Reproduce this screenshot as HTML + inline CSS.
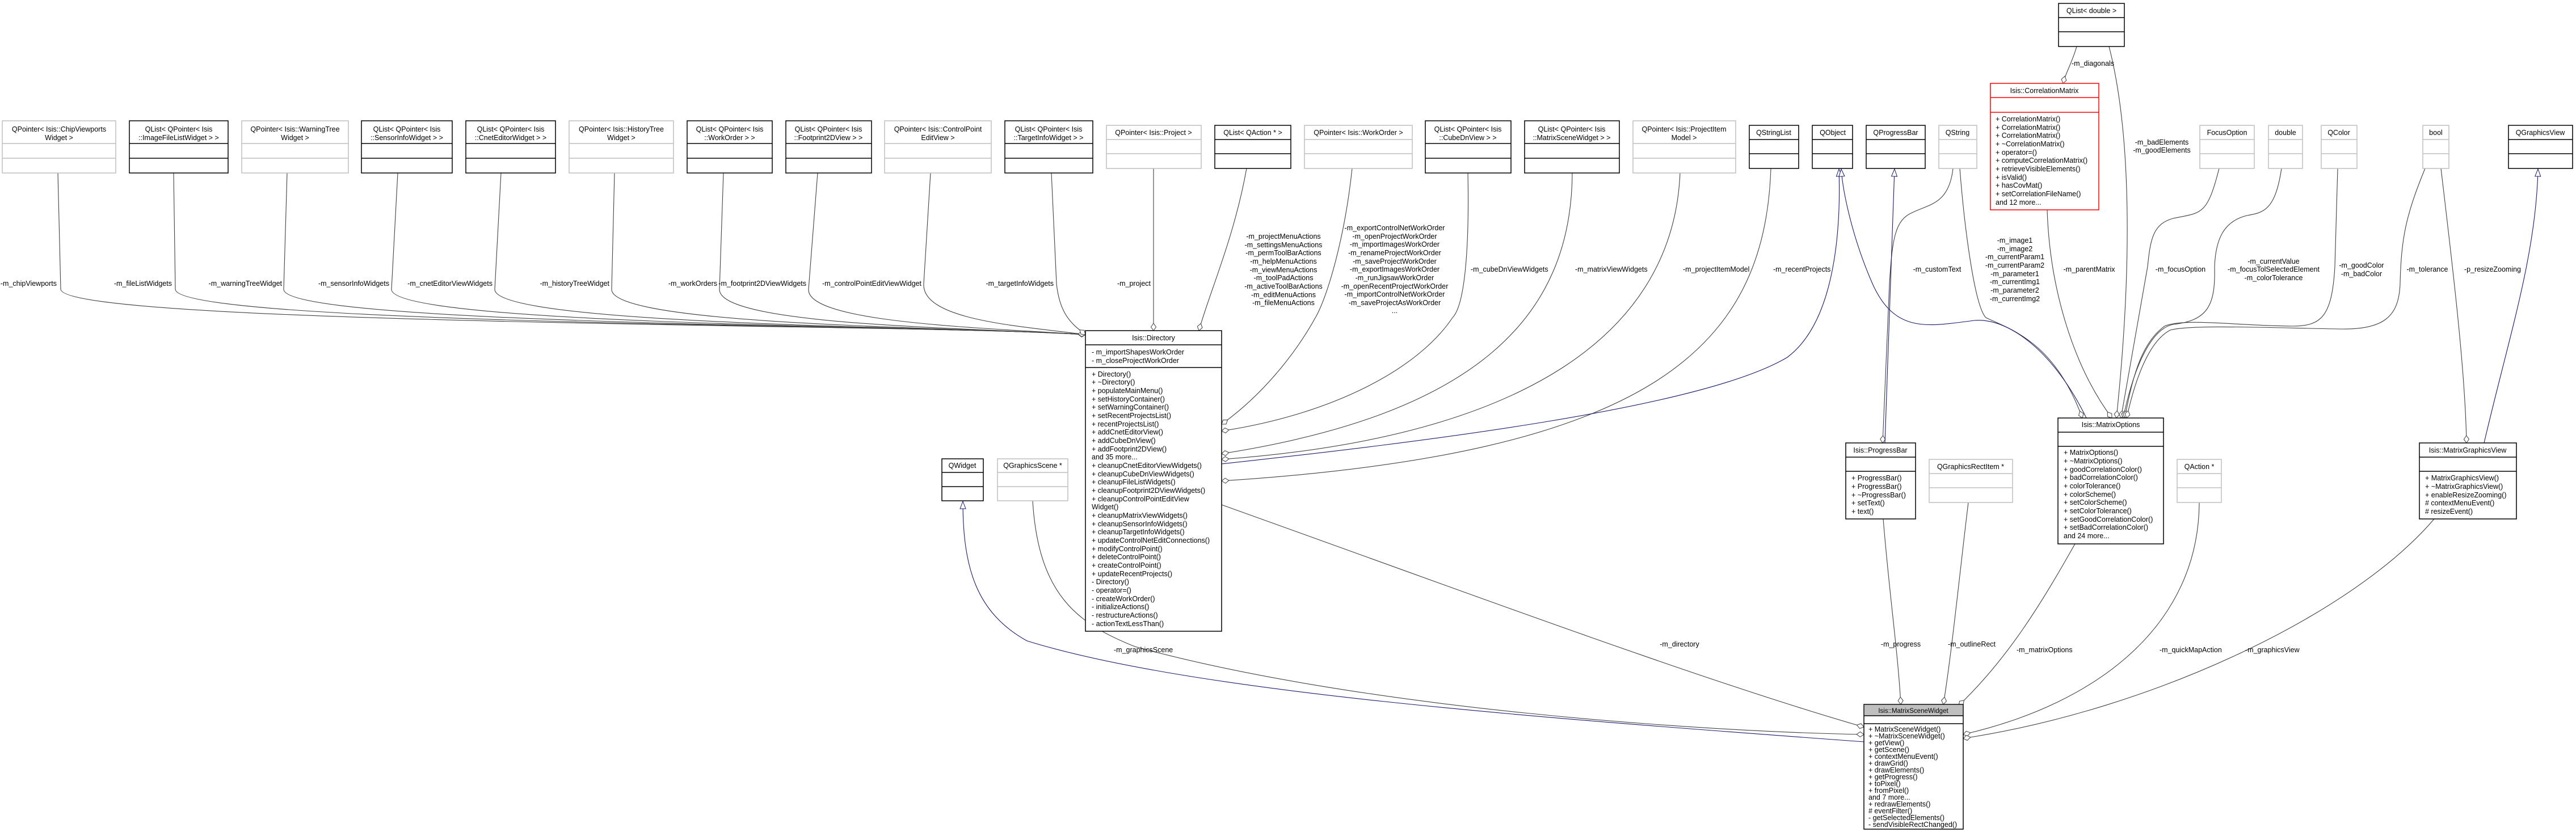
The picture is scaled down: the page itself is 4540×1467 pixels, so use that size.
<!DOCTYPE html>
<html><head><meta charset="utf-8"><style>
html,body{margin:0;padding:0;background:#fff;}
svg{display:block;}
text{font-family:"Liberation Sans",sans-serif;font-size:12.5px;fill:#000;}
.c{text-anchor:middle;}
.e{fill:none;stroke:#404040;stroke-width:1.1;}
.n{fill:none;stroke:#191970;stroke-width:1.1;}
.bk{fill:#fff;stroke:#000;stroke-width:1.5;}
.gr{fill:#fff;stroke:#bfbfbf;stroke-width:1.5;}
.rd{fill:#fff;stroke:#ff0000;stroke-width:1.5;}
.lb{stroke:#000;stroke-width:1.5;}
.lg{stroke:#bfbfbf;stroke-width:1.5;}
.lr{stroke:#ff0000;stroke-width:1.5;}
</style></head><body>
<svg width="4540" height="1467" viewBox="0 0 4540 1467" xmlns="http://www.w3.org/2000/svg">
<defs>
<marker id="d" markerWidth="16" markerHeight="12" refX="14" refY="6" orient="auto" markerUnits="userSpaceOnUse"><path d="M1,6 L7.5,1.5 L14,6 L7.5,10.5 Z" fill="#fff" stroke="#404040" stroke-width="1"/></marker>
<marker id="t" markerWidth="16" markerHeight="14" refX="14" refY="7" orient="auto" markerUnits="userSpaceOnUse"><path d="M1,2 L14,7 L1,12 Z" fill="#fff" stroke="#191970" stroke-width="1"/></marker>
</defs>

<path class="e" marker-end="url(#d)" d="M102,305 L107,510 C112,575 1700,572 1913,590"/>
<path class="e" marker-end="url(#d)" d="M306,305 L309,510 C312,575 1700,573 1913,590"/>
<path class="e" marker-end="url(#d)" d="M506,305 L500,510 C498,575 1700,574 1913,590"/>
<path class="e" marker-end="url(#d)" d="M701,305 L690,510 C688,575 1700,575 1913,590"/>
<path class="e" marker-end="url(#d)" d="M883,305 L872,510 C870,575 1700,576 1913,590"/>
<path class="e" marker-end="url(#d)" d="M1083,305 L1078,510 C1076,575 1700,577 1913,590"/>
<path class="e" marker-end="url(#d)" d="M1275,305 L1268,510 C1266,575 1720,578 1913,590"/>
<path class="e" marker-end="url(#d)" d="M1441,305 L1425,510 C1422,570 1740,578 1913,590"/>
<path class="e" marker-end="url(#d)" d="M1640,305 L1628,500 C1624,565 1800,575 1913,590"/>
<path class="e" marker-end="url(#d)" d="M1853,305 L1862,500 C1868,560 1895,575 1913,590"/>
<path class="e" marker-end="url(#d)" d="M2033,297 L2033,583"/>
<path class="e" marker-end="url(#d)" d="M2197,297 C2175,420 2130,520 2113,583"/>
<path class="e" marker-end="url(#d)" d="M2383,297 C2370,420 2340,520 2320,557 C2280,630 2220,700 2153,748"/>
<path class="e" marker-end="url(#d)" d="M2587,304 C2590,450 2580,540 2560,560 C2500,650 2350,730 2153,760"/>
<path class="e" marker-end="url(#d)" d="M2771,304 C2770,560 2600,730 2153,800"/>
<path class="e" marker-end="url(#d)" d="M2961,304 C2950,580 2700,770 2153,810"/>
<path class="e" marker-end="url(#d)" d="M3121,297 C3110,620 2900,800 2153,848"/>
<path class="n" marker-end="url(#t)" d="M2153,818 C2500,780 3000,720 3150,630 C3230,570 3245,420 3241,298"/>
<path class="e" marker-end="url(#d)" d="M3660,82 C3652,110 3640,130 3636,147"/>
<path class="e" marker-end="url(#d)" d="M3717,82 C3760,250 3755,500 3730,737"/>
<path class="e" marker-end="url(#d)" d="M3454,297 C3462,400 3480,540 3500,560 C3540,580 3620,600 3670,737"/>
<path class="n" marker-end="url(#t)" d="M3677,737 C3620,620 3540,560 3480,565 C3400,575 3340,590 3300,500 C3265,420 3248,340 3245,298"/>
<path class="e" marker-end="url(#d)" d="M3608,370 C3612,500 3650,640 3722,737"/>
<path class="e" marker-end="url(#d)" d="M3911,297 C3890,380 3880,375 3830,385 C3795,395 3790,420 3785,470 L3738,737"/>
<path class="e" marker-end="url(#d)" d="M4021,297 C4010,370 3990,375 3960,380 C3920,390 3905,420 3903,470 C3905,540 3890,565 3830,572 C3790,580 3760,650 3742,737"/>
<path class="e" marker-end="url(#d)" d="M4120,297 L4115,470 C4110,560 4090,575 4040,575 C3950,575 3850,560 3815,575 C3780,600 3760,650 3745,737"/>
<path class="e" marker-end="url(#d)" d="M4274,297 C4240,380 4232,420 4230,500 C4228,560 4200,582 4120,580 C4000,578 3860,572 3825,582 C3790,600 3765,660 3748,737"/>
<path class="e" marker-end="url(#d)" d="M4302,297 C4320,450 4345,650 4347,781"/>
<path class="n" marker-end="url(#t)" d="M4378,781 C4420,600 4470,450 4473,298"/>
<path class="e" marker-end="url(#d)" d="M3442,297 C3435,360 3400,360 3370,375 C3340,388 3335,420 3330,500 L3318,781"/>
<path class="n" marker-end="url(#t)" d="M3322,781 L3339,298"/>
<path class="e" marker-end="url(#d)" d="M3319,915 C3330,1050 3345,1150 3350,1242"/>
<path class="e" marker-end="url(#d)" d="M3469,886 C3455,1000 3440,1150 3425,1242"/>
<path class="e" marker-end="url(#d)" d="M3657,959 C3600,1060 3540,1160 3452,1244"/>
<path class="e" marker-end="url(#d)" d="M3876,886 C3875,1100 3700,1240 3460,1295"/>
<path class="e" marker-end="url(#d)" d="M4290,915 C4150,1080 3800,1250 3460,1302"/>
<path class="e" marker-end="url(#d)" d="M2153,890 C2600,1050 3000,1200 3285,1282"/>
<path class="e" marker-end="url(#d)" d="M1820,883 C1830,1050 1900,1100 2000,1140 C2400,1250 3000,1290 3285,1295"/>
<path class="n" marker-end="url(#t)" d="M3285,1308 C2700,1265 2100,1220 1810,1130 C1720,1080 1697,1000 1697,884"/>

<g style="text-anchor:end">
<text x="100" y="504">-m_chipViewports</text>
<text x="303" y="504">-m_fileListWidgets</text>
<text x="497" y="504">-m_warningTreeWidget</text>
<text x="686" y="504">-m_sensorInfoWidgets</text>
<text x="868" y="504">-m_cnetEditorViewWidgets</text>
<text x="1074" y="504">-m_historyTreeWidget</text>
<text x="1264" y="504">-m_workOrders</text>
<text x="1421" y="504">-m_footprint2DViewWidgets</text>
<text x="1624" y="504">-m_controlPointEditViewWidget</text>
<text x="1857" y="504">-m_targetInfoWidgets</text>
<text x="2028" y="504">-m_project</text>
</g>
<g class="c">
<text x="2262" y="421">-m_projectMenuActions</text>
<text x="2262" y="436">-m_settingsMenuActions</text>
<text x="2262" y="450">-m_permToolBarActions</text>
<text x="2262" y="465">-m_helpMenuActions</text>
<text x="2262" y="480">-m_viewMenuActions</text>
<text x="2262" y="494">-m_toolPadActions</text>
<text x="2262" y="509">-m_activeToolBarActions</text>
<text x="2262" y="524">-m_editMenuActions</text>
<text x="2262" y="538">-m_fileMenuActions</text>
<text x="2458" y="406">-m_exportControlNetWorkOrder</text>
<text x="2458" y="421">-m_openProjectWorkOrder</text>
<text x="2458" y="435">-m_importImagesWorkOrder</text>
<text x="2458" y="450">-m_renameProjectWorkOrder</text>
<text x="2458" y="465">-m_saveProjectWorkOrder</text>
<text x="2458" y="479">-m_exportImagesWorkOrder</text>
<text x="2458" y="494">-m_runJigsawWorkOrder</text>
<text x="2458" y="509">-m_openRecentProjectWorkOrder</text>
<text x="2458" y="523">-m_importControlNetWorkOrder</text>
<text x="2458" y="538">-m_saveProjectAsWorkOrder</text>
<text x="2458" y="552">...</text>
<text x="3414" y="479">-m_customText</text>
<text x="3551" y="428">-m_image1</text>
<text x="3551" y="443">-m_image2</text>
<text x="3551" y="457">-m_currentParam1</text>
<text x="3551" y="472">-m_currentParam2</text>
<text x="3551" y="487">-m_parameter1</text>
<text x="3551" y="501">-m_currentImg1</text>
<text x="3551" y="516">-m_parameter2</text>
<text x="3551" y="531">-m_currentImg2</text>
<text x="3682" y="479">-m_parentMatrix</text>
<text x="3843" y="479">-m_focusOption</text>
<text x="4007" y="465">-m_currentValue</text>
<text x="4007" y="479">-m_focusTolSelectedElement</text>
<text x="4007" y="494">-m_colorTolerance</text>
<text x="4162" y="472">-m_goodColor</text>
<text x="4162" y="487">-m_badColor</text>
<text x="4278" y="479">-m_tolerance</text>
<text x="4393" y="479">-p_resizeZooming</text>
<text x="3810" y="255">-m_badElements</text>
<text x="3810" y="269">-m_goodElements</text>
<text x="2960" y="1140">-m_directory</text>
<text x="3350" y="1140">-m_progress</text>
<text x="3475" y="1140">-m_outlineRect</text>
</g>
<text x="3651" y="116">-m_diagonals</text>
<text x="2592" y="479">-m_cubeDnViewWidgets</text>
<text x="2776" y="479">-m_matrixViewWidgets</text>
<text x="2966" y="479">-m_projectItemModel</text>
<text x="3125" y="479">-m_recentProjects</text>
<text x="1963" y="1150">-m_graphicsScene</text>
<text x="3554" y="1150">-m_matrixOptions</text>
<text x="3806" y="1150">-m_quickMapAction</text>
<text x="3957" y="1150">-m_graphicsView</text>

<g>
<rect class="gr" x="4" y="213" width="200" height="92"/><line class="lg" x1="4" y1="253" x2="204" y2="253"/><line class="lg" x1="4" y1="279" x2="204" y2="279"/>
<text class="c" x="104" y="232">QPointer&lt; Isis::ChipViewports</text><text class="c" x="104" y="247">Widget &gt;</text>
<rect class="bk" x="228" y="213" width="174" height="92"/><line class="lb" x1="228" y1="253" x2="402" y2="253"/><line class="lb" x1="228" y1="279" x2="402" y2="279"/>
<text class="c" x="315" y="232">QList&lt; QPointer&lt; Isis</text><text class="c" x="315" y="247">::ImageFileListWidget &gt; &gt;</text>
<rect class="gr" x="426" y="213" width="188" height="92"/><line class="lg" x1="426" y1="253" x2="614" y2="253"/><line class="lg" x1="426" y1="279" x2="614" y2="279"/>
<text class="c" x="520" y="232">QPointer&lt; Isis::WarningTree</text><text class="c" x="520" y="247">Widget &gt;</text>
<rect class="bk" x="637" y="213" width="160" height="92"/><line class="lb" x1="637" y1="253" x2="797" y2="253"/><line class="lb" x1="637" y1="279" x2="797" y2="279"/>
<text class="c" x="717" y="232">QList&lt; QPointer&lt; Isis</text><text class="c" x="717" y="247">::SensorInfoWidget &gt; &gt;</text>
<rect class="bk" x="821" y="213" width="158" height="92"/><line class="lb" x1="821" y1="253" x2="979" y2="253"/><line class="lb" x1="821" y1="279" x2="979" y2="279"/>
<text class="c" x="900" y="232">QList&lt; QPointer&lt; Isis</text><text class="c" x="900" y="247">::CnetEditorWidget &gt; &gt;</text>
<rect class="gr" x="1003" y="213" width="184" height="92"/><line class="lg" x1="1003" y1="253" x2="1187" y2="253"/><line class="lg" x1="1003" y1="279" x2="1187" y2="279"/>
<text class="c" x="1095" y="232">QPointer&lt; Isis::HistoryTree</text><text class="c" x="1095" y="247">Widget &gt;</text>
<rect class="bk" x="1211" y="213" width="150" height="92"/><line class="lb" x1="1211" y1="253" x2="1361" y2="253"/><line class="lb" x1="1211" y1="279" x2="1361" y2="279"/>
<text class="c" x="1286" y="232">QList&lt; QPointer&lt; Isis</text><text class="c" x="1286" y="247">::WorkOrder &gt; &gt;</text>
<rect class="bk" x="1385" y="213" width="151" height="92"/><line class="lb" x1="1385" y1="253" x2="1536" y2="253"/><line class="lb" x1="1385" y1="279" x2="1536" y2="279"/>
<text class="c" x="1460" y="232">QList&lt; QPointer&lt; Isis</text><text class="c" x="1460" y="247">::Footprint2DView &gt; &gt;</text>
<rect class="gr" x="1559" y="213" width="188" height="92"/><line class="lg" x1="1559" y1="253" x2="1747" y2="253"/><line class="lg" x1="1559" y1="279" x2="1747" y2="279"/>
<text class="c" x="1653" y="232">QPointer&lt; Isis::ControlPoint</text><text class="c" x="1653" y="247">EditView &gt;</text>
<rect class="bk" x="1771" y="213" width="155" height="92"/><line class="lb" x1="1771" y1="253" x2="1926" y2="253"/><line class="lb" x1="1771" y1="279" x2="1926" y2="279"/>
<text class="c" x="1848" y="232">QList&lt; QPointer&lt; Isis</text><text class="c" x="1848" y="247">::TargetInfoWidget &gt; &gt;</text>
<rect class="bk" x="2512" y="213" width="151" height="92"/><line class="lb" x1="2512" y1="253" x2="2663" y2="253"/><line class="lb" x1="2512" y1="279" x2="2663" y2="279"/>
<text class="c" x="2587" y="232">QList&lt; QPointer&lt; Isis</text><text class="c" x="2587" y="247">::CubeDnView &gt; &gt;</text>
<rect class="bk" x="2687" y="213" width="167" height="92"/><line class="lb" x1="2687" y1="253" x2="2854" y2="253"/><line class="lb" x1="2687" y1="279" x2="2854" y2="279"/>
<text class="c" x="2770" y="232">QList&lt; QPointer&lt; Isis</text><text class="c" x="2770" y="247">::MatrixSceneWidget &gt; &gt;</text>
<rect class="gr" x="2878" y="213" width="181" height="92"/><line class="lg" x1="2878" y1="253" x2="3059" y2="253"/><line class="lg" x1="2878" y1="279" x2="3059" y2="279"/>
<text class="c" x="2968" y="232">QPointer&lt; Isis::ProjectItem</text><text class="c" x="2968" y="247">Model &gt;</text>
</g>

<g>
<rect class="gr" x="1950" y="221" width="167" height="76"/><line class="lg" x1="1950" y1="246" x2="2117" y2="246"/><line class="lg" x1="1950" y1="271" x2="2117" y2="271"/><text class="c" x="2033" y="238">QPointer&lt; Isis::Project &gt;</text>
<rect class="bk" x="2141" y="221" width="134" height="76"/><line class="lb" x1="2141" y1="246" x2="2275" y2="246"/><line class="lb" x1="2141" y1="271" x2="2275" y2="271"/><text class="c" x="2208" y="238">QList&lt; QAction * &gt;</text>
<rect class="gr" x="2299" y="221" width="190" height="76"/><line class="lg" x1="2299" y1="246" x2="2489" y2="246"/><line class="lg" x1="2299" y1="271" x2="2489" y2="271"/><text class="c" x="2394" y="238">QPointer&lt; Isis::WorkOrder &gt;</text>
<rect class="bk" x="3083" y="221" width="87" height="76"/><line class="lb" x1="3083" y1="246" x2="3170" y2="246"/><line class="lb" x1="3083" y1="271" x2="3170" y2="271"/><text class="c" x="3126" y="238">QStringList</text>
<rect class="bk" x="3194" y="221" width="71" height="76"/><line class="lb" x1="3194" y1="246" x2="3265" y2="246"/><line class="lb" x1="3194" y1="271" x2="3265" y2="271"/><text class="c" x="3230" y="238">QObject</text>
<rect class="bk" x="3289" y="221" width="104" height="76"/><line class="lb" x1="3289" y1="246" x2="3393" y2="246"/><line class="lb" x1="3289" y1="271" x2="3393" y2="271"/><text class="c" x="3341" y="238">QProgressBar</text>
<rect class="gr" x="3417" y="221" width="67" height="76"/><line class="lg" x1="3417" y1="246" x2="3484" y2="246"/><line class="lg" x1="3417" y1="271" x2="3484" y2="271"/><text class="c" x="3450" y="238">QString</text>
<rect class="gr" x="3877" y="221" width="96" height="76"/><line class="lg" x1="3877" y1="246" x2="3973" y2="246"/><line class="lg" x1="3877" y1="271" x2="3973" y2="271"/><text class="c" x="3925" y="238">FocusOption</text>
<rect class="gr" x="3998" y="221" width="60" height="76"/><line class="lg" x1="3998" y1="246" x2="4058" y2="246"/><line class="lg" x1="3998" y1="271" x2="4058" y2="271"/><text class="c" x="4028" y="238">double</text>
<rect class="gr" x="4091" y="221" width="63" height="76"/><line class="lg" x1="4091" y1="246" x2="4154" y2="246"/><line class="lg" x1="4091" y1="271" x2="4154" y2="271"/><text class="c" x="4122" y="238">QColor</text>
<rect class="gr" x="4270" y="221" width="46" height="76"/><line class="lg" x1="4270" y1="246" x2="4316" y2="246"/><line class="lg" x1="4270" y1="271" x2="4316" y2="271"/><text class="c" x="4293" y="238">bool</text>
<rect class="bk" x="4421" y="221" width="113" height="76"/><line class="lb" x1="4421" y1="246" x2="4534" y2="246"/><line class="lb" x1="4421" y1="271" x2="4534" y2="271"/><text class="c" x="4477" y="238">QGraphicsView</text>
<rect class="bk" x="3628" y="6" width="116" height="76"/><line class="lb" x1="3628" y1="31" x2="3744" y2="31"/><line class="lb" x1="3628" y1="56" x2="3744" y2="56"/><text class="c" x="3686" y="23">QList&lt; double &gt;</text>
<rect class="gr" x="3400" y="810" width="147" height="76"/><line class="lg" x1="3400" y1="835" x2="3547" y2="835"/><line class="lg" x1="3400" y1="860" x2="3547" y2="860"/><text class="c" x="3473" y="827">QGraphicsRectItem *</text>
<rect class="gr" x="3837" y="810" width="78" height="76"/><line class="lg" x1="3837" y1="835" x2="3915" y2="835"/><line class="lg" x1="3837" y1="860" x2="3915" y2="860"/><text class="c" x="3876" y="827">QAction *</text>
<rect class="bk" x="1660" y="809" width="73" height="74"/><line class="lb" x1="1660" y1="833" x2="1733" y2="833"/><line class="lb" x1="1660" y1="858" x2="1733" y2="858"/><text class="c" x="1696" y="825">QWidget</text>
<rect class="gr" x="1758" y="809" width="124" height="74"/><line class="lg" x1="1758" y1="833" x2="1882" y2="833"/><line class="lg" x1="1758" y1="858" x2="1882" y2="858"/><text class="c" x="1820" y="825">QGraphicsScene *</text>
</g>

<rect class="rd" x="3508" y="147" width="191" height="223"/><line class="lr" x1="3508" y1="172" x2="3699" y2="172"/><line class="lr" x1="3508" y1="198" x2="3699" y2="198"/>
<text class="c" x="3603" y="164">Isis::CorrelationMatrix</text>
<g transform="translate(3517,0)">
<text y="214">+ CorrelationMatrix()</text><text y="229">+ CorrelationMatrix()</text><text y="243">+ CorrelationMatrix()</text><text y="258">+ ~CorrelationMatrix()</text><text y="273">+ operator=()</text><text y="287">+ computeCorrelationMatrix()</text><text y="302">+ retrieveVisibleElements()</text><text y="317">+ isValid()</text><text y="331">+ hasCovMat()</text><text y="346">+ setCorrelationFileName()</text><text y="361">and 12 more...</text>
</g>

<rect class="bk" x="1913" y="583" width="240" height="530"/><line class="lb" x1="1913" y1="608" x2="2153" y2="608"/><line class="lb" x1="1913" y1="648" x2="2153" y2="648"/>
<text class="c" x="2033" y="600">Isis::Directory</text>
<g transform="translate(1924,0)">
<text y="625">- m_importShapesWorkOrder</text><text y="640">- m_closeProjectWorkOrder</text>
<text y="664">+ Directory()</text><text y="678">+ ~Directory()</text><text y="693">+ populateMainMenu()</text><text y="708">+ setHistoryContainer()</text><text y="722">+ setWarningContainer()</text><text y="737">+ setRecentProjectsList()</text><text y="752">+ recentProjectsList()</text><text y="766">+ addCnetEditorView()</text><text y="781">+ addCubeDnView()</text><text y="796">+ addFootprint2DView()</text><text y="810">and 35 more...</text><text y="825">+ cleanupCnetEditorViewWidgets()</text><text y="840">+ cleanupCubeDnViewWidgets()</text><text y="854">+ cleanupFileListWidgets()</text><text y="869">+ cleanupFootprint2DViewWidgets()</text><text y="884">+ cleanupControlPointEditView</text><text y="898">Widget()</text><text y="913">+ cleanupMatrixViewWidgets()</text><text y="928">+ cleanupSensorInfoWidgets()</text><text y="942">+ cleanupTargetInfoWidgets()</text><text y="957">+ updateControlNetEditConnections()</text><text y="972">+ modifyControlPoint()</text><text y="986">+ deleteControlPoint()</text><text y="1001">+ createControlPoint()</text><text y="1016">+ updateRecentProjects()</text><text y="1030">- Directory()</text><text y="1045">- operator=()</text><text y="1060">- createWorkOrder()</text><text y="1074">- initializeActions()</text><text y="1089">- restructureActions()</text><text y="1104">- actionTextLessThan()</text>
</g>

<rect class="bk" x="3253" y="781" width="123" height="134"/><line class="lb" x1="3253" y1="806" x2="3376" y2="806"/><line class="lb" x1="3253" y1="831" x2="3376" y2="831"/>
<text class="c" x="3314" y="798">Isis::ProgressBar</text>
<g transform="translate(3263,0)"><text y="847">+ ProgressBar()</text><text y="862">+ ProgressBar()</text><text y="877">+ ~ProgressBar()</text><text y="891">+ setText()</text><text y="906">+ text()</text></g>

<rect class="bk" x="3627" y="737" width="186" height="222"/><line class="lb" x1="3627" y1="762" x2="3813" y2="762"/><line class="lb" x1="3627" y1="787" x2="3813" y2="787"/>
<text class="c" x="3720" y="753">Isis::MatrixOptions</text>
<g transform="translate(3637,0)"><text y="802">+ MatrixOptions()</text><text y="817">+ ~MatrixOptions()</text><text y="832">+ goodCorrelationColor()</text><text y="846">+ badCorrelationColor()</text><text y="861">+ colorTolerance()</text><text y="876">+ colorScheme()</text><text y="890">+ setColorScheme()</text><text y="905">+ setColorTolerance()</text><text y="920">+ setGoodCorrelationColor()</text><text y="934">+ setBadCorrelationColor()</text><text y="949">and 24 more...</text></g>

<rect class="bk" x="4264" y="781" width="171" height="134"/><line class="lb" x1="4264" y1="806" x2="4435" y2="806"/><line class="lb" x1="4264" y1="831" x2="4435" y2="831"/>
<text class="c" x="4349" y="798">Isis::MatrixGraphicsView</text>
<g transform="translate(4274,0)"><text y="847">+ MatrixGraphicsView()</text><text y="862">+ ~MatrixGraphicsView()</text><text y="877">+ enableResizeZooming()</text><text y="891"># contextMenuEvent()</text><text y="906"># resizeEvent()</text></g>

<rect x="3285" y="1242" width="175" height="220" fill="#fff" stroke="#000" stroke-width="1.5"/>
<rect x="3286" y="1243" width="173" height="19" fill="#bfbfbf"/>
<line class="lb" x1="3285" y1="1262" x2="3460" y2="1262"/><line class="lb" x1="3285" y1="1276" x2="3460" y2="1276"/>
<text class="c" x="3372" y="1257" style="font-size:11.5px">Isis::MatrixSceneWidget</text>
<g transform="translate(3293,0)" style="font-size:11px">
<text y="1290">+ MatrixSceneWidget()</text><text y="1302">+ ~MatrixSceneWidget()</text><text y="1314">+ getView()</text><text y="1326">+ getScene()</text><text y="1338">+ contextMenuEvent()</text><text y="1350">+ drawGrid()</text><text y="1362">+ drawElements()</text><text y="1374">+ getProgress()</text><text y="1386">+ toPixel()</text><text y="1398">+ fromPixel()</text><text y="1410">and 7 more...</text><text y="1422">+ redrawElements()</text><text y="1434"># eventFilter()</text><text y="1446">- getSelectedElements()</text><text y="1458">- sendVisibleRectChanged()</text>
</g>
</svg>
</body></html>
